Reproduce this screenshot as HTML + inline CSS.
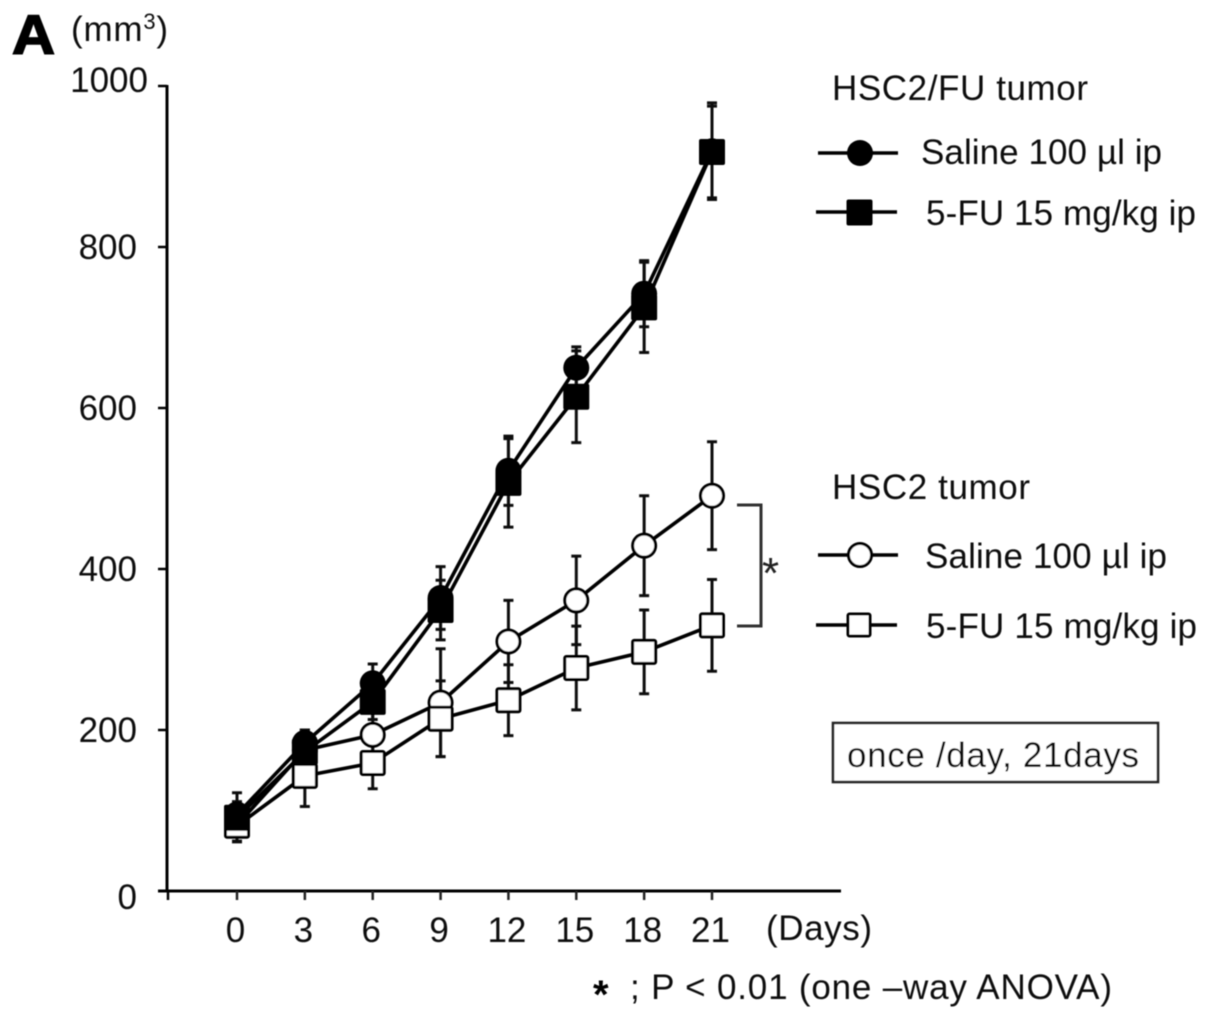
<!DOCTYPE html>
<html lang="en">
<head>
<meta charset="utf-8">
<title>Tumor volume chart</title>
<style>
html,body{margin:0;padding:0;background:#fff;width:1205px;height:1023px;overflow:hidden}
svg{display:block}
text{font-family:"Liberation Sans",Arial,sans-serif;font-size:35px;fill:#111}
</style>
</head>
<body>
<svg id="chart" xmlns="http://www.w3.org/2000/svg" width="1205" height="1023" viewBox="0 0 1205 1023">
  <defs>
    <filter id="soft" x="-2%" y="-2%" width="104%" height="104%"><feGaussianBlur stdDeviation="0.65"/></filter>
  </defs>
  <rect width="1205" height="1023" fill="#fff"/>
  <g id="root" filter="url(#soft)">
    <text x="12" y="54" textLength="43" lengthAdjust="spacingAndGlyphs" style="font-size:56px;font-weight:bold;fill:#000;stroke:#000;stroke-width:1.6">A</text>
    <text x="71" y="41" textLength="97" lengthAdjust="spacing">(mm<tspan dy="-12" style="font-size:22px">3</tspan><tspan dy="12">)</tspan></text>

    <g id="axes"></g>
    <g id="series"></g>

    <text x="766" y="940" textLength="106" lengthAdjust="spacing">(Days)</text>

    <g>
      <text x="832" y="100" textLength="256" lengthAdjust="spacing">HSC2/FU tumor</text>
      <g>
        <line x1="818" y1="153" x2="898" y2="153" stroke="#000" stroke-width="3.5"/>
        <circle cx="860" cy="153" r="13" fill="#000"/>
        <text x="921" y="164" textLength="241" lengthAdjust="spacing">Saline 100 µl ip</text>
      </g>
      <g>
        <line x1="816" y1="212" x2="897" y2="212" stroke="#000" stroke-width="3.5"/>
        <rect x="846.5" y="199.5" width="26" height="26" rx="2" fill="#000"/>
        <text x="926" y="225" textLength="270" lengthAdjust="spacing">5-FU 15 mg/kg ip</text>
      </g>
    </g>

    <g>
      <text x="832" y="499" textLength="198" lengthAdjust="spacing">HSC2 tumor</text>
      <g>
        <line x1="818" y1="555" x2="898" y2="555" stroke="#000" stroke-width="3.5"/>
        <circle cx="860" cy="555" r="11.5" fill="#fff" stroke="#000" stroke-width="3"/>
        <text x="925" y="568" textLength="242" lengthAdjust="spacing">Saline 100 µl ip</text>
      </g>
      <g>
        <line x1="816" y1="625" x2="897" y2="625" stroke="#000" stroke-width="3.5"/>
        <rect x="848" y="614" width="22" height="22" rx="1.5" fill="#fff" stroke="#000" stroke-width="3"/>
        <text x="926" y="638" textLength="271" lengthAdjust="spacing">5-FU 15 mg/kg ip</text>
      </g>
    </g>

    <g>
      <path d="M737 505H761V626H737" fill="none" stroke="#333" stroke-width="3"/>
      <text x="762" y="588" style="font-size:44px;fill:#222">*</text>
    </g>

    <g>
      <rect x="833" y="723" width="325" height="59" fill="#fff" stroke="#222" stroke-width="2.6"/>
      <text x="847" y="767" textLength="292" lengthAdjust="spacing">once /day, 21days</text>
    </g>

    <g>
      <text x="593" y="1008" style="font-size:40px;font-weight:bold;fill:#000">*</text>
      <text x="630" y="999" textLength="482" lengthAdjust="spacing">; P &lt; 0.01 (one –way ANOVA)</text>
    </g>
  </g>
</svg>
<script>
// Chart data
var days = [0, 3, 6, 9, 12, 15, 18, 21];
var yTicks = [0, 200, 400, 600, 800, 1000];

var fuSalineValues = [95, 184, 258, 364, 522, 650, 742, 919];
var fuSalineErrors = [27, 16, 24, 39, 43, 26, 41, 60];
var fuDrugValues = [91, 173, 235, 349, 507, 614, 725, 918];
var fuDrugErrors = [20, 18, 22, 37, 55, 57, 56, 57];
var hscSalineValues = [82, 175, 194, 234, 310, 361, 429, 491];
var hscSalineErrors = [20, 25, 37, 67, 51, 55, 62, 67];
var hscDrugValues = [81, 143, 159, 214, 237, 277, 297, 330];
var hscDrugErrors = [20, 38, 32, 47, 44, 52, 52, 57];

// Axis functions
function xScale(day) { return 237 + day * (712 - 237) / 21; }
function yScale(v) { return 891 - v * 0.805; }

var NS = 'http://www.w3.org/2000/svg';
function make(tag, attrs, parent) {
  var e = document.createElementNS(NS, tag);
  for (var k in attrs) { e.setAttribute(k, attrs[k]); }
  parent.appendChild(e);
  return e;
}

var axes = document.getElementById('axes');
var seriesLayer = document.getElementById('series');

var yAxis = make('line', {x1: 167, y1: 85, x2: 167, y2: 892, stroke: '#000', 'stroke-width': 3}, axes);


var xAxis = make('line', {x1: 158, y1: 891, x2: 841, y2: 891, stroke: '#000', 'stroke-width': 3}, axes);



yTicks.forEach(function (v) {
  var y = yScale(v);
  var tick = make('line', {x1: 158, y1: y, x2: 167, y2: y, stroke: '#000', 'stroke-width': 2.5}, axes);
  
  
  var label = make('text', {x: v === 1000 ? 148 : 137, y: y + (v === 0 ? 18 : (v === 1000 ? 6 : 12)), 'text-anchor': 'end'}, axes);
  label.textContent = String(v);
  
  
});

make('line', {x1: 168, y1: 891, x2: 168, y2: 900, stroke: '#000', 'stroke-width': 2.5}, axes);
days.forEach(function (d) {
  var x = xScale(d);
  var tick = make('line', {x1: x, y1: 891, x2: x, y2: 900, stroke: '#222', 'stroke-width': 2.5}, axes);
  
  
  var label = make('text', {x: x - 1.5, y: 942, 'text-anchor': 'middle'}, axes);
  label.textContent = String(d);
  
  
});

function drawErrors(values, errors, group) {
  values.forEach(function (v, i) {
    var x = xScale(days[i]);
    var top = yScale(v + errors[i]);
    var bottom = yScale(v - errors[i]);
    var bar = make('path', {
      d: 'M' + x + ' ' + top + 'V' + bottom + 'M' + (x - 5) + ' ' + top + 'H' + (x + 5) + 'M' + (x - 5) + ' ' + bottom + 'H' + (x + 5),
      fill: 'none', stroke: '#111', 'stroke-width': 3
    }, group);
    
    
  });
}

function drawLine(values, group) {
  var pts = values.map(function (v, i) { return xScale(days[i]) + ',' + yScale(v); }).join(' ');
  var line = make('polyline', {points: pts, fill: 'none', stroke: '#000', 'stroke-width': 3.6, 'stroke-linejoin': 'round'}, group);
  
  
}

function drawMarkers(values, shape, filled, group) {
  values.forEach(function (v, i) {
    var x = xScale(days[i]);
    var y = yScale(v);
    var m;
    if (shape === 'circle') {
      m = make('circle', filled
        ? {cx: x, cy: y, r: 13, fill: '#000'}
        : {cx: x, cy: y, r: 11.5, fill: '#fff', stroke: '#000', 'stroke-width': 3}, group);
    } else {
      m = make('rect', filled
        ? {x: x - 13, y: y - 13, width: 26, height: 26, rx: 2, fill: '#000'}
        : {x: x - 11.5, y: y - 11.5, width: 23, height: 23, rx: 1.5, fill: '#fff', stroke: '#000', 'stroke-width': 3}, group);
    }
    
    
  });
}

var seriesList = [
  {values: hscDrugValues, errors: hscDrugErrors},
  {values: hscSalineValues, errors: hscSalineErrors},
  {values: fuSalineValues, errors: fuSalineErrors},
  {values: fuDrugValues, errors: fuDrugErrors}
];

// Draw order: open circle under open square at early days, filled series on top
seriesList.forEach(function (s) { drawErrors(s.values, s.errors, seriesLayer); });
seriesList.forEach(function (s) { drawLine(s.values, seriesLayer); });
drawMarkers(hscSalineValues, 'circle', false, seriesLayer);
drawMarkers(hscDrugValues, 'rect', false, seriesLayer);
drawMarkers(fuSalineValues, 'circle', true, seriesLayer);
drawMarkers(fuDrugValues, 'rect', true, seriesLayer);
</script>
</body>
</html>
